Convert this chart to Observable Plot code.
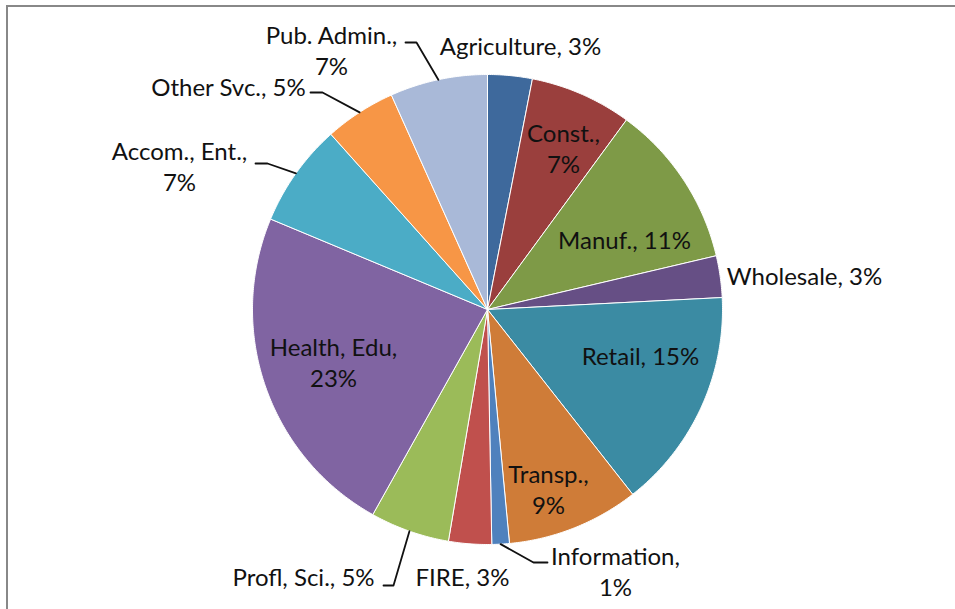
<!DOCTYPE html>
<html><head><meta charset="utf-8">
<script src="https://cdn.jsdelivr.net/npm/d3@7"></script>
<script src="https://cdn.jsdelivr.net/npm/@observablehq/plot@0.6"></script>
<style>
html,body{margin:0;padding:0;background:#fff;overflow:hidden;}
#wrap{position:relative;width:955px;height:609px;overflow:hidden;}
#frame{position:absolute;left:6px;top:5px;width:1000px;height:700px;border-left:2.5px solid #888;border-top:2.5px solid #888;pointer-events:none;}
</style></head>
<body><div id="wrap"><div id="chart"></div><div id="frame"></div></div>
<script>
// ---- data ----
const categories = ["Agriculture","Const.","Manuf.","Wholesale","Retail","Transp.","Information","FIRE","Profl, Sci.","Health, Edu","Accom., Ent.","Other Svc.","Pub. Admin."];
const shares = [3.06, 7.0, 11.25, 2.86, 15.2, 9.1, 1.2, 2.95, 5.45, 23.15, 7.1, 4.9, 6.7];
const colors = ["#3E699C","#9A3F3D","#7E9A47","#664F85","#3B8BA3","#CF7C38","#4F81BD","#C0504D","#9BBB59","#8064A2","#4BACC6","#F79646","#A9B9D8"];
// whether the percentage goes on a second line
const labelBreak = [false,true,false,false,false,true,true,false,false,true,true,false,true];

// ---- layout (pixels relative to pie centre) ----
const W = 955, H = 609, cx = 487, cy = 309, R = 235;
const labelXY = [[33,-264],[76,-162],[137,-70],[317,-34],[153,46],[61,179],[128,261],[-25,267],[-184,267],[-154,52],[-308,-144],[-259,-223],[-156,-260]];
// leaders: category index, end point, elbow point (start is slice mid-arc)
const leaders = [
  {i:12, end:[-82,-267], elbow:[-71,-267]},
  {i:11, end:[-177,-217], elbow:[-165,-217]},
  {i:10, end:[-232,-146], elbow:[-220,-146]},
  {i:8,  end:[-104,276], elbow:[-94,276]},
  {i:6,  end:[60,253], elbow:[46,253]}
];

const total = d3.sum(shares);
let acc = 0;
const slices = categories.map((c, i) => {
  const a0 = acc / total * 2 * Math.PI; acc += shares[i];
  const a1 = acc / total * 2 * Math.PI;
  return {c, a0, a1, mid: (a0 + a1) / 2};
});
const wedges = [];
for (const s of slices) {
  const n = Math.max(2, Math.ceil((s.a1 - s.a0) / (Math.PI / 360)));
  wedges.push({c: s.c, x: 0, y: 0});
  for (let k = 0; k <= n; k++) {
    const a = s.a0 + (s.a1 - s.a0) * k / n;
    wedges.push({c: s.c, x: R * Math.sin(a), y: -R * Math.cos(a)});
  }
  wedges.push({c: s.c, x: 0, y: 0});
}
const leaderPts = [];
leaders.forEach((l, j) => {
  const m = slices[l.i].mid;
  leaderPts.push({j, x: R * Math.sin(m), y: -R * Math.cos(m)});
  leaderPts.push({j, x: l.elbow[0], y: l.elbow[1]});
  leaderPts.push({j, x: l.end[0], y: l.end[1]});
});
const labels = categories.map((c, i) => ({
  x: labelXY[i][0], y: labelXY[i][1],
  text: c + "," + (labelBreak[i] ? "\n" : " ") + Math.round(shares[i]) + "%"
}));

const chart = Plot.plot({
  width: W, height: H, margin: 0,
  style: {background: "white"},
  x: {domain: [-cx, W - cx], range: [0, W], axis: null},
  y: {domain: [-cy, H - cy], range: [0, H], axis: null},
  color: {domain: categories, range: colors, type: "ordinal"},
  marks: [
    Plot.line(wedges, {x: "x", y: "y", z: "c", fill: "c", stroke: "white", strokeWidth: 1, curve: "linear"}),
    Plot.line(leaderPts, {x: "x", y: "y", z: "j", stroke: "#111", strokeWidth: 1.8, curve: "linear"}),
    Plot.text(labels, {x: "x", y: "y", text: "text", fontSize: 24, fontFamily: "Lato", lineHeight: 1.3, fill: "#111"})
  ]
});
document.getElementById("chart").appendChild(chart);
</script>
</body></html>
